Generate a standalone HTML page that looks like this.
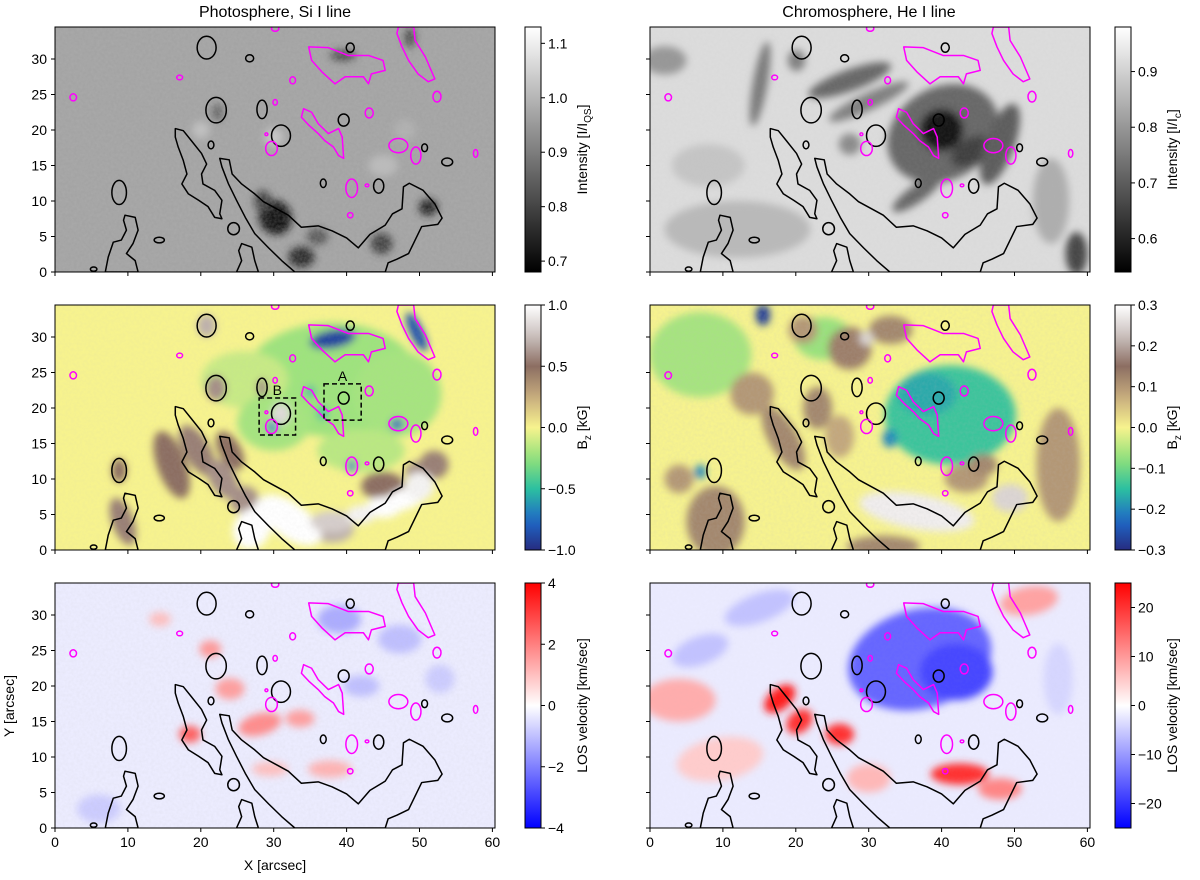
<!DOCTYPE html>
<html><head><meta charset="utf-8">
<style>
body{margin:0;background:#fff;}
svg{display:block;font-family:"Liberation Sans","DejaVu Sans",sans-serif;}
</style></head>
<body>
<svg id="fig" width="1200" height="880" viewBox="0 0 1200 880" xmlns="http://www.w3.org/2000/svg">
<defs>
<filter id="blur" x="-20%" y="-20%" width="140%" height="140%"><feGaussianBlur stdDeviation="4"/></filter>
<filter id="noise"><feTurbulence type="fractalNoise" baseFrequency="0.35" numOctaves="2" seed="3"/><feColorMatrix type="matrix" values="0 0 0 0 0.5  0 0 0 0 0.5  0 0 0 0 0.5  0 0 0 0.9 -0.25"/></filter>
</defs>
</svg>
<script>
// ---- data (arcsec) ----
const contourOuter = [[22.6,16.0],[23.9,15.8],[24.3,13.8],[25.6,12.4],[27.4,11.0],[28.6,9.9],[30.4,8.9],[32.0,8.0],[33.8,6.3],[36.1,6.5],[38.0,5.8],[40.0,4.8],[41.6,3.4],[43.2,5.3],[45.3,6.6],[46.3,8.2],[47.6,8.9],[47.8,12.0],[48.6,12.5],[50.5,11.5],[52.1,9.6],[53.1,7.6],[52.5,6.7],[50.3,6.4],[49.4,4.5],[48.5,2.6],[46.9,1.8],[45.7,1.3],[45.3,0],[32.9,0],[31.1,1.6],[29.3,3.4],[27.4,5.4],[26.1,7.7],[24.9,10.1],[23.8,12.4],[22.9,14.8]];
const contourInner = [[16.5,20.2],[17.6,19.9],[18.7,18.5],[20.1,16.7],[20.8,15.2],[20.1,13.8],[20.3,12.4],[21.9,11.5],[22.9,10.1],[22.6,8.2],[22.9,7.5],[21.9,7.7],[21.0,9.2],[19.7,10.1],[18.3,11.0],[17.4,12.4],[18.1,13.8],[17.6,15.7],[16.9,17.6],[16.5,19.0]];
const contourLeft = [[9.6,8.0],[11.0,7.7],[11.4,5.9],[10.7,4.0],[9.8,2.6],[11.0,1.6],[11.4,0],[6.9,0],[7.3,2.1],[8.0,4.2],[9.1,4.5],[9.8,5.9],[9.4,7.3]];
const contourBottom = [[25.6,4.0],[27.0,3.5],[27.4,1.6],[27.9,0],[24.9,0],[25.6,1.6],[25.2,3.0]];
const blackLoops = [[20.8,31.6,1.3,1.6],[26.7,30.1,0.55,0.5],[40.5,31.6,0.55,0.65],[22.1,22.8,1.4,1.8],[28.4,22.9,0.7,1.3],[31.0,19.2,1.3,1.5],[21.4,17.9,0.4,0.55],[39.6,21.4,0.75,0.85],[50.7,17.5,0.4,0.55],[53.8,15.5,0.75,0.55],[36.8,12.5,0.4,0.6],[44.4,12.1,0.7,1.0],[24.5,6.1,0.8,0.85],[14.3,4.5,0.7,0.4],[8.8,11.2,1.0,1.7],[5.3,0.4,0.45,0.3]];
const magentaBig = [[34.8,31.7],[37.5,31.6],[40.2,30.5],[43.0,30.5],[45.0,29.8],[45.3,28.4],[43.4,27.9],[43.0,26.5],[42.3,27.5],[41.6,27.5],[39.8,27.5],[38.4,26.5],[36.6,28.2],[35.2,29.8]];
const magentaStrip = [[47.1,34.5],[49.2,34.5],[49.4,32.6],[50.8,30.3],[52.1,27.2],[51.2,26.8],[49.8,27.9],[48.5,29.8],[47.6,31.7],[46.9,33.6]];
const magentaMid = [[34.1,23.0],[35.2,22.5],[36.1,20.9],[37.5,19.5],[38.9,20.2],[39.4,19.0],[39.6,16.0],[38.9,16.4],[38.2,17.6],[37.0,18.5],[36.1,19.5],[34.8,20.7],[33.8,21.8]];
const magentaLoops = [[17.1,27.4,0.4,0.33],[2.5,24.6,0.45,0.5],[32.6,27.0,0.4,0.5],[30.2,23.9,0.3,0.4],[29.7,17.4,0.8,1.0],[29.0,19.4,0.2,0.2],[43.1,22.4,0.55,0.7],[52.4,24.7,0.55,0.75],[47.1,17.8,1.3,1.0],[49.5,16.4,0.7,1.2],[57.7,16.7,0.3,0.55],[40.7,11.8,0.8,1.3],[42.8,12.2,0.25,0.2],[40.5,8.0,0.37,0.37],[30.2,34.3,0.5,0.4]];

// blobs: x, y, rx, ry, rotation, value
const blobsP1 = [[30.2,7.7,2.2,2.5,-30,0.72],[28.5,10,1.2,1.5,0,0.8],[33.8,2.1,1.8,1.5,0,0.76],[36,5,1.5,1.2,0,0.84],[44.8,4,1.5,1.5,0,0.8],[51.2,9.1,1.3,1.2,0,0.75],[39.5,30.5,1.8,0.8,0,0.82],[48.7,33,0.8,1.4,0,0.82],[22.3,22.5,0.8,1.2,0,0.86],[20,20,1.2,1.2,0,1.02],[30,19,1.3,1.3,0,1.03],[45,15,2,1.5,0,1.01],[48,20,1.5,1.5,0,0.99]];
const blobsP2 = [[40.2,19.5,8,6.5,-30,0.72],[40,20,3,3,0,0.58],[44,17,3,1.8,-30,0.65],[15.1,26.5,1,6,10,0.75],[27.4,27,6,1.5,-20,0.72],[30,24,6,1.2,-25,0.76],[48,18,2,6,20,0.7],[2,29.8,3,2,0,0.8],[58.5,2.6,1.5,3,0,0.66],[12,6,10,4,0,0.86],[36.6,11,4,1.2,-35,0.72],[20.1,29.8,1.2,1.5,0,0.76],[27.4,18,1.5,1.5,0,0.78],[55,10,2.5,6,0,0.84],[8,15,5,3,0,0.88]];
const blobsP3 = [[38,24,12,8,0,-0.22],[26,24,6,4,0,-0.12],[30,18,5,4,0,-0.2],[47,22,6,6,0,-0.2],[42,14,6,3,0,-0.15],[38.1,29.7,3.2,1.3,-10,-0.9],[49.6,30.7,0.9,3,-25,-0.85],[46.9,17.7,0.9,0.8,0,-0.8],[40.7,11.8,0.6,0.9,0,-0.7],[29.8,17.3,0.7,0.8,0,-0.7],[35,22.3,0.6,0.8,0,-0.55],[36.7,19.3,0.7,1,0,-0.5],[19.5,14,1.8,4,-30,0.55],[16,12,2,5,-20,0.5],[23,10,1.8,3,-30,0.6],[24,14,1.5,3,-30,0.5],[26,7,2,2,0,0.6],[45,9,3,2,0,0.5],[50,11,2,1.5,0,0.6],[52,12,2,2,0,0.55],[38,3,3,2,0,0.7],[20.8,31.6,1.3,1.6,0,0.7],[22.1,22.8,1.4,1.8,0,0.6],[31,19.2,1.3,1.5,0,0.85],[8.8,11.2,1,1.7,0,0.5],[9.3,4,1.5,3.5,-20,0.55],[28.4,22.9,0.7,1.3,0,0.6],[32.2,4.2,5,2.5,35,1.0],[27,3,2.5,3,30,1.0],[30,5,3,2,30,1.0],[48,7.2,3.5,1.5,-20,1.0],[45,6,2.5,1.5,0,1.0],[50,9,2,2,0,0.95],[38,4,3,1.5,0,0.8],[42,5,2,1.3,0,0.95]];
const blobsP4 = [[6.9,27.5,7,6,0,-0.06],[23.8,29.8,4,3,0,-0.07],[41.2,19,9,7,0,-0.14],[38,22,4,3,0,-0.17],[32.9,15.7,1,1.3,0,-0.2],[15.5,33.1,1,1.5,0,-0.28],[9.1,2.6,0.8,0.8,0,-0.22],[6.9,11,0.8,1,0,-0.2],[9,4,4,5,0,0.12],[4,10,2,2,0,0.1],[18.3,15.7,2,5,-30,0.12],[14,22,3,3,0,0.1],[23,20,2,3,0,0.12],[33,31,3,2,0,0.12],[27.4,28.4,3,3,0,0.13],[29.7,29.8,1,1,0,0.25],[56,12,3,8,0,0.1],[43.4,10.1,3,2,0,0.1],[45.7,12,2,1.5,0,0.12],[36.6,5.4,8,2.5,10,0.28],[49.4,7.3,2.5,2,0,0.25],[32,0.5,5,1.5,0,0.12],[26,16,2,3,0,0.08],[21,31,2,2,0,0.1]];
const blobsP5 = [[21.3,25.2,1.5,1.2,0,1.6],[24,19.6,2,1.5,0,1.5],[18.5,13.2,1.5,1.2,0,2.5],[28.1,14.6,3,1.5,-15,1.8],[33.6,15.4,2,1.2,0,1.5],[37.7,8.3,3,1.2,0,1.2],[29.5,8.3,2.5,1,0,1],[14.4,29.4,1.5,1,0,1],[39,29.4,3,2,0,-1.3],[47.3,26.6,3,2,0,-1],[52.8,21,2,2,0,-0.8],[6,2.7,3,2,0,-0.8],[42,20,2.5,1.5,0,-1]];
const blobsP6 = [[37,23.8,10,7,-15,-15],[42,22,5,4,0,-18],[6.9,25,4,2,-20,-6],[15,31,5,2,-20,-6],[17.8,18.2,2.5,1.5,-40,22],[20.5,15,2,1.5,-40,20],[26,13.2,2,1.5,0,20],[42.5,7.6,4,1.5,0,20],[48,5.5,3,1.5,0,12],[4,18,5,3,0,8],[9.6,9.7,6,3,-10,5],[52,32,4,2,-10,9],[30,7,3,2,0,7],[56,21,2,5,0,-4]];

const xTicks = [0,10,20,30,40,50,60];
const yTicks = [0,5,10,15,20,25,30];

// ---- helpers ----
const NS="http://www.w3.org/2000/svg";
const svg=document.getElementById('fig');
function mk(tag,attrs,parent){const e=document.createElementNS(NS,tag);for(const k in attrs)e.setAttribute(k,attrs[k]);(parent||svg).appendChild(e);return e;}
function hex(c){return [parseInt(c.slice(1,3),16),parseInt(c.slice(3,5),16),parseInt(c.slice(5,7),16)];}
function ramp(stops){return t=>{t=Math.max(0,Math.min(1,t));for(let i=1;i<stops.length;i++){if(t<=stops[i][0]){const a=stops[i-1],b=stops[i];const f=(t-a[0])/(b[0]-a[0]||1);const ca=hex(a[1]),cb=hex(b[1]);return 'rgb('+ca.map((v,j)=>Math.round(v+(cb[j]-v)*f)).join(',')+')';}}return stops[stops.length-1][1];};}
const grayMap=ramp([[0,'#000000'],[1,'#ffffff']]);
const bzMap=ramp([[0,'#262c80'],[0.12,'#1f68c8'],[0.25,'#2cc0a0'],[0.37,'#8ee07a'],[0.5,'#f7f38e'],[0.62,'#c9ae7e'],[0.75,'#8c6e62'],[0.87,'#c8bebb'],[1,'#ffffff']]);
const bwrMap=ramp([[0,'#0000ff'],[0.5,'#ffffff'],[1,'#ff0000']]);

const W=440,H=245,SX=7.29,SY=7.1;
const cols=[55,650], rows=[27,305,583];

function panel(id,px,py,blobs,base,vmin,vmax,cmap,noise){
  const g=mk('g',{});
  const cp=mk('clipPath',{id:'c'+id},g);mk('rect',{x:px,y:py,width:W,height:H},cp);
  const inner=mk('g',{'clip-path':'url(#c'+id+')'},g);
  const fx=x=>px+x*SX, fy=y=>py+H-y*SY;
  const norm=v=>(v-vmin)/(vmax-vmin);
  mk('rect',{x:px,y:py,width:W,height:H,fill:cmap(norm(base))},inner);
  const bg=mk('g',{filter:'url(#blur)'},inner);
  blobs.forEach(b=>{
    const e=mk('ellipse',{cx:fx(b[0]),cy:fy(b[1]),rx:b[2]*SX,ry:b[3]*SY,fill:cmap(norm(b[5])),transform:'rotate('+b[4]+' '+fx(b[0])+' '+fy(b[1])+')'},bg);
    
    
  });
  if(noise) mk('rect',{x:px,y:py,width:W,height:H,filter:'url(#noise)',opacity:noise},inner);
  const poly=(pts,col)=>mk('polygon',{points:pts.map(p=>fx(p[0])+','+fy(p[1])).join(' '),fill:'none',stroke:col,'stroke-width':1.5,'stroke-linejoin':'round'},inner);
  const b1=poly(contourOuter,'#000');
  poly(contourInner,'#000');poly(contourLeft,'#000');poly(contourBottom,'#000');
  blackLoops.forEach(l=>mk('ellipse',{cx:fx(l[0]),cy:fy(l[1]),rx:l[2]*SX,ry:l[3]*SY,fill:'none',stroke:'#000','stroke-width':1.5},inner));
  const m1=poly(magentaBig,'#ff00ff');
  poly(magentaStrip,'#ff00ff');poly(magentaMid,'#ff00ff');
  magentaLoops.forEach(l=>mk('ellipse',{cx:fx(l[0]),cy:fy(l[1]),rx:l[2]*SX,ry:l[3]*SY,fill:'none',stroke:'#ff00ff','stroke-width':1.5},inner));
  mk('rect',{x:px,y:py,width:W,height:H,fill:'none',stroke:'#000','stroke-width':1},g);
  return {g,fx,fy};
}
function axes(P,px,py,showY,showX){
  xTicks.forEach(t=>{const x=P.fx(t);mk('line',{x1:x,y1:py+H,x2:x,y2:py+H+4,stroke:'#000'});
    if(showX){const tx=mk('text',{x:x,y:py+H+19,'font-size':14,'text-anchor':'middle'});tx.textContent=t;}});
  yTicks.forEach(t=>{const y=P.fy(t);mk('line',{x1:px-4,y1:y,x2:px,y2:y,stroke:'#000'});
    if(showY){const tx=mk('text',{x:px-8,y:y+5,'font-size':14,'text-anchor':'end'});tx.textContent=t;}});
}
function colorbar(id,cx,cy,vmin,vmax,ticks,labels,cmap,label){
  const g=mk('g',{});
  const gid='gr'+id;const lg=mk('linearGradient',{id:gid,x1:0,y1:1,x2:0,y2:0},g);
  for(let i=0;i<=20;i++)mk('stop',{offset:i/20,'stop-color':cmap(i/20)},lg);
  mk('rect',{x:cx,y:cy,width:16,height:H,fill:'url(#'+gid+')',stroke:'#000','stroke-width':1},g);
  ticks.forEach((t,i)=>{const y=cy+H-(t-vmin)/(vmax-vmin)*H;mk('line',{x1:cx+16,y1:y,x2:cx+20,y2:y,stroke:'#000'},g);
    const tx=mk('text',{x:cx+23,y:y+5,'font-size':14},g);tx.textContent=labels[i];});
  const lx=cx+62,ly=cy+H/2;
  const tx=mk('text',{x:lx,y:ly,'font-size':14,'text-anchor':'middle',transform:'rotate(-90 '+lx+' '+ly+')'},g);
  tx.innerHTML=label;
}

const P1=panel('photo-intensity-map',cols[0],rows[0],blobsP1,0.97,0.68,1.13,grayMap,0.4);
const P2=panel('chromo-intensity-map',cols[1],rows[0],blobsP2,0.92,0.54,0.98,grayMap,0.12);
const P3=panel('photo-bz-map',cols[0],rows[1],blobsP3,0.0,-1,1,bzMap,0.15);
const P4=panel('chromo-bz-map',cols[1],rows[1],blobsP4,0.0,-0.3,0.3,bzMap,0.25);
const P5=panel('photo-velocity-map',cols[0],rows[2],blobsP5,-0.3,-4,4,bwrMap,0.2);
const P6=panel('chromo-velocity-map',cols[1],rows[2],blobsP6,-2,-25,25,bwrMap,0.08);
axes(P1,cols[0],rows[0],true,false);axes(P2,cols[1],rows[0],false,false);
axes(P3,cols[0],rows[1],true,false);axes(P4,cols[1],rows[1],false,false);
axes(P5,cols[0],rows[2],true,true);axes(P6,cols[1],rows[2],false,true);

[[28,16.2,33,21.4,'B'],[36.9,18.3,42,23.4,'A']].forEach(b=>{
  const r=mk('rect',{x:P3.fx(b[0]),y:P3.fy(b[3]),width:(b[2]-b[0])*SX,height:(b[3]-b[1])*SY,fill:'none',stroke:'#000','stroke-width':1.5,'stroke-dasharray':'5,3'});
  
  const t=mk('text',{x:P3.fx((b[0]+b[2])/2),y:P3.fy(b[3])-3,'font-size':14,'text-anchor':'middle'});t.textContent=b[4];
});

colorbar('cb-photo-intensity',525,rows[0],0.68,1.13,[0.7,0.8,0.9,1.0,1.1],['0.7','0.8','0.9','1.0','1.1'],grayMap,'Intensity [I/I<tspan font-size="10" dy="4">QS</tspan><tspan dy="-4">]</tspan>');
colorbar('cb-chromo-intensity',1115,rows[0],0.54,0.98,[0.6,0.7,0.8,0.9],['0.6','0.7','0.8','0.9'],grayMap,'Intensity [I/I<tspan font-size="10" dy="4">c</tspan><tspan dy="-4">]</tspan>');
colorbar('cb-photo-bz',525,rows[1],-1,1,[-1,-0.5,0,0.5,1],['\u22121.0','\u22120.5','0.0','0.5','1.0'],bzMap,'B<tspan font-size="10" dy="4">z</tspan><tspan dy="-4"> [kG]</tspan>');
colorbar('cb-chromo-bz',1115,rows[1],-0.3,0.3,[-0.3,-0.2,-0.1,0,0.1,0.2,0.3],['\u22120.3','\u22120.2','\u22120.1','0.0','0.1','0.2','0.3'],bzMap,'B<tspan font-size="10" dy="4">z</tspan><tspan dy="-4"> [kG]</tspan>');
colorbar('cb-photo-velocity',525,rows[2],-4,4,[-4,-2,0,2,4],['\u22124','\u22122','0','2','4'],bwrMap,'LOS velocity [km/sec]');
colorbar('cb-chromo-velocity',1115,rows[2],-25,25,[-20,-10,0,10,20],['\u221220','\u221210','0','10','20'],bwrMap,'LOS velocity [km/sec]');

let t;
t=mk('text',{x:275,y:17,'font-size':16,'text-anchor':'middle'});t.textContent='Photosphere, Si I line';
t=mk('text',{x:869,y:17,'font-size':16,'text-anchor':'middle'});t.textContent='Chromosphere, He I line';
t=mk('text',{x:275,y:870,'font-size':14,'text-anchor':'middle'});t.textContent='X [arcsec]';
t=mk('text',{x:14,y:706,'font-size':14,'text-anchor':'middle',transform:'rotate(-90 14 706)'});t.textContent='Y [arcsec]';
</script>
</body></html>
